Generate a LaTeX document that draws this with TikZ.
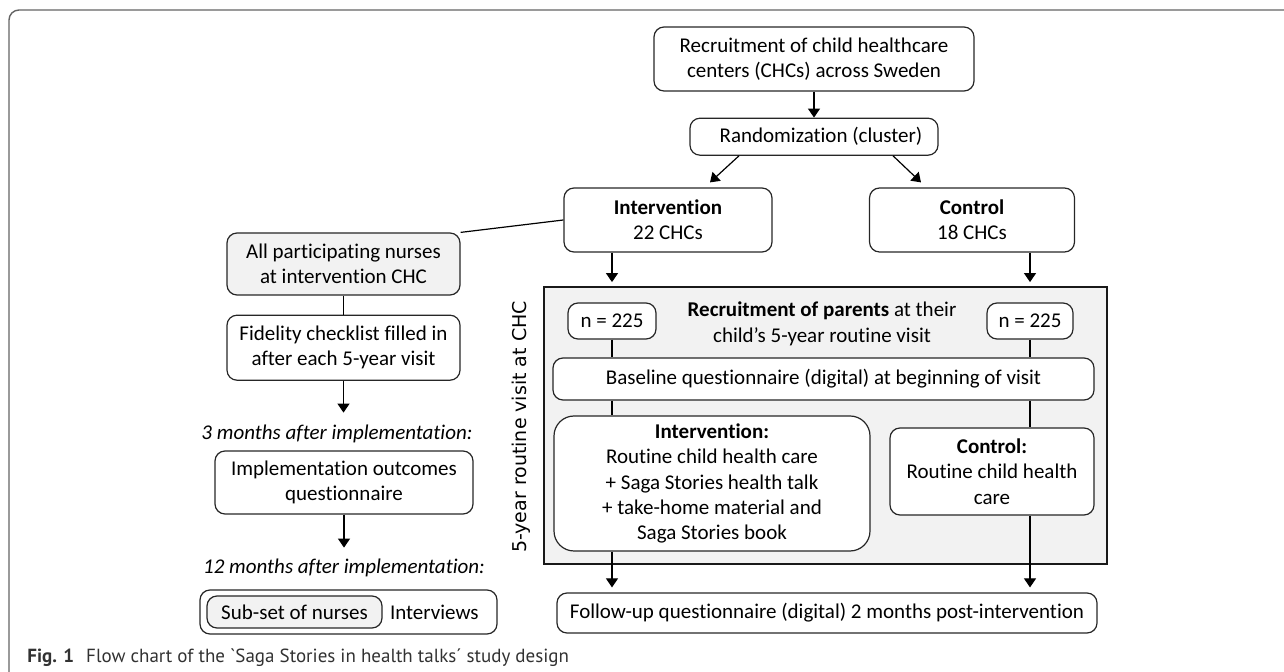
\documentclass[tikz,border=0pt]{standalone}
\usepackage{fontspec}
\setmainfont{Carlito}[Ligatures={TeX,NoCommon}]
\newfontfamily\visitfont{DejaVu Sans}
\newfontfamily\capfont{PT Sans}
\usetikzlibrary{arrows.meta, positioning, calc}
\definecolor{boxgray}{RGB}{242,242,242}
\definecolor{framegray}{RGB}{100,100,100}
\definecolor{capgray}{RGB}{50,50,50}

\tikzset{
  box/.style={draw=black!85, line width=0.6pt, rounded corners=5pt, align=center, inner sep=0pt, font=\fontsize{10.5}{12.7}\selectfont},
  arr/.style={-{Triangle[width=6pt,length=4.5pt]}, line width=0.6pt},
  conn/.style={line width=0.6pt},
  note/.style={font=\fontsize{10.5}{12.7}\selectfont\itshape, inner sep=1pt}
}

\begin{document}
\begin{tikzpicture}[x=0.5pt,y=-0.5pt]
  \clip (0,0) rectangle (1284,672);
  \draw[framegray, line width=0.7pt, rounded corners=5pt] (9,10) rectangle (1300,700);

  % randomisation of the centres
  \node[box, minimum width=160pt, minimum height=32pt] (rec) at (814,59) {Recruitment of child healthcare\\centers (CHCs) across Sweden};
  \node[box, minimum width=124pt, minimum height=18.5pt, below=13pt of rec] (rand) {\hspace*{7pt}Randomization (cluster)};
  \node[box, minimum width=104pt, minimum height=32pt] (intv) at (668,220) {\textbf{Intervention}\\22 CHCs};
  \node[box, minimum width=102.5pt, minimum height=32pt] (ctrl) at (972,220) {\textbf{Control}\\18 CHCs};

  % nurses column
  \node[box, fill=boxgray, minimum width=116.5pt, minimum height=31pt] (nurses) at (343.5,264) {All participating nurses\\at intervention CHC};
  \node[box, minimum width=116.5pt, minimum height=32.5pt, below=9.5pt of nurses] (fid) {Fidelity checklist filled in\\after each 5-year visit};
  \node[note] (m3) at (337,434) {3 months after implementation:};
  \node[box, minimum width=129pt, minimum height=31.5pt] (impl) at (344,482.5) {Implementation outcomes\\questionnaire};
  \node[note] (m12) at (344,568) {12 months after implementation:};
  \node[box, minimum width=148.5pt, minimum height=22pt] (intw) at (348.5,612) {};
  \node[box, fill=boxgray, minimum width=87.5pt, minimum height=16pt, right=3.5pt of intw.west] (subset) {Sub-set of nurses};
  \node[right=2.5pt of subset.east, inner sep=1pt, font=\fontsize{10.5}{12.7}\selectfont] (intwtxt) {Interviews};

  % visit at the CHC
  \node[draw=black!90, line width=0.9pt, fill=boxgray, minimum width=281.5pt, minimum height=138.5pt, inner sep=0pt] (visit) at (825.5,425.5) {};
  \node[rotate=90, font=\visitfont\fontsize{9.5}{11}\selectfont] (visitlbl) at (521,427) {5-year routine visit at CHC};
  \node[box, fill=white, minimum width=44pt, minimum height=18pt] (nL) at (612,321) {n = 225};
  \node[box, fill=white, minimum width=43pt, minimum height=18pt] (nR) at (1030,321) {n = 225};
  \node[align=center, inner sep=0pt, font=\fontsize{10.5}{12.7}\selectfont] (parents) at (822,324) {\textbf{Recruitment of parents} at their\\child's 5-year routine visit};
  \node[box, fill=white, minimum width=270.5pt, minimum height=21pt] (base) at (823.5,379) {Baseline questionnaire (digital) at beginning of visit};
  \node[box, fill=white, rounded corners=10pt, minimum width=158pt, minimum height=67.5pt] (intbox) at (712,483.5) {\textbf{Intervention:}\\Routine child health care\\+ Saga Stories health talk\\+ take-home material and\\Saga Stories book};
  \node[box, fill=white, minimum width=102pt, minimum height=43.5pt] (ctrlbox) at (992,471.5) {\textbf{Control:}\\Routine child health\\care};
  \node[box, minimum width=270pt, minimum height=20pt] (follow) at (827,613) {Follow-up questionnaire (digital) 2 months post-intervention};

  \node[anchor=base west, inner sep=0pt, text=capgray, font=\capfont\fontsize{9.5}{11}\selectfont] (caption) at (27,662) {\textbf{Fig. 1}\hspace{6pt}Flow chart of the \textasciigrave Saga Stories in health talks´ study design};

  % connectors
  \draw[arr] (rec) -- (rand);
  \draw[arr] ([xshift=-37.5pt]rand.south) -- ([xshift=21pt,yshift=2.5pt]intv.north);
  \draw[arr] ([xshift=39.5pt]rand.south) -- ([xshift=-25.5pt,yshift=2.5pt]ctrl.north);
  \draw[conn] (intv.west) -- (nurses.north east);
  \draw[conn] (nurses) -- (fid);
  \draw[arr, shorten >=5pt] (fid.south) -- (fid.south |- m3.north);
  \draw[arr, shorten >=4.5pt] (impl.south) -- (impl.south |- m12.north);
  \draw[arr, shorten >=2pt] (intv.south -| nL) -- (visit.north -| nL);
  \draw[arr, shorten >=2pt] (ctrl.south -| nR) -- (visit.north -| nR);
  \draw[conn] (nL) -- (base.north -| nL);
  \draw[conn] (base.south -| nL) -- (intbox.north -| nL);
  \draw[arr, shorten >=2.5pt] (intbox.south -| nL) -- (follow.north -| nL);
  \draw[conn] (nR) -- (base.north -| nR);
  \draw[conn] (base.south -| nR) -- (ctrlbox.north -| nR);
  \draw[arr, shorten >=2.5pt] (ctrlbox.south -| nR) -- (follow.north -| nR);
\end{tikzpicture}
\end{document}
